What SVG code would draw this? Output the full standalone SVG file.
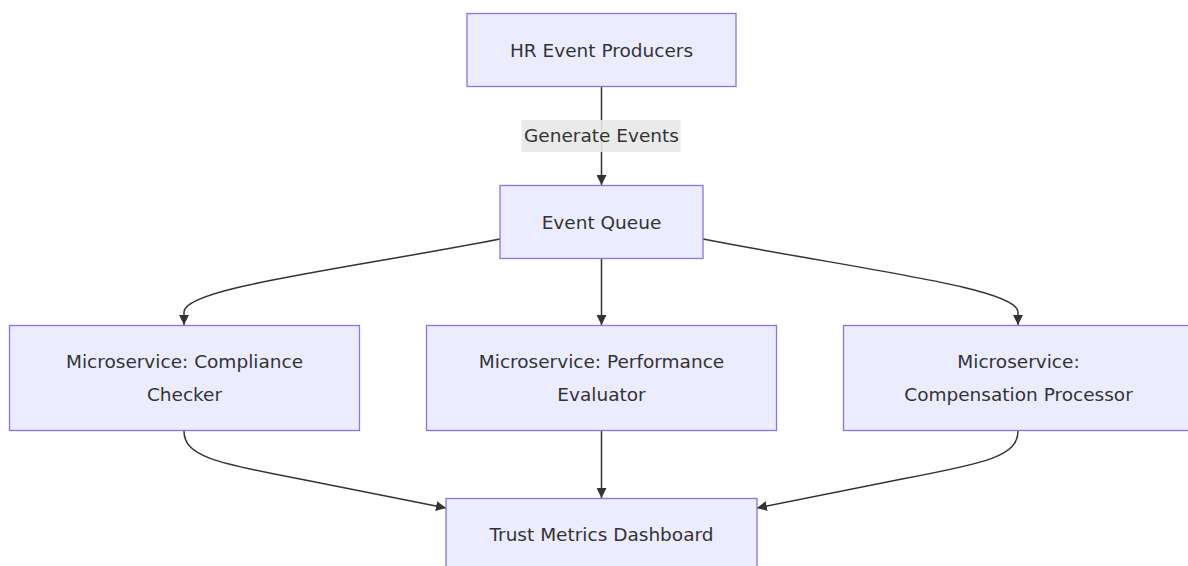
<svg xmlns="http://www.w3.org/2000/svg" width="1188" height="566" viewBox="0 0 1188 566">
  <style>
    .node rect { fill: #ECECFF; stroke: #9370DB; stroke-width: 1.3; }
    .node text, .edge-label text { font-family: "DejaVu Sans", "Liberation Sans", sans-serif; font-size: 18.5px; fill: #333; text-anchor: middle; dominant-baseline: central; }
    .edges path { fill: none; stroke: #333; stroke-width: 1.5; }
    .edge-label rect { fill: #e8e8e8; opacity: 0.9; }
  </style>
  <defs>
    <marker id="arrow" viewBox="0 0 10 10" refX="10" refY="5" markerWidth="10" markerHeight="10" markerUnits="userSpaceOnUse" orient="auto">
      <path d="M0,0 L10,5 L0,10 z" fill="#333"/>
    </marker>
  </defs>
  <rect width="1188" height="566" fill="#ffffff"/>

  <g class="edges">
    <path d="M601.5,87 L601.5,185" marker-end="url(#arrow)"/>
    <path d="M500,239 C340,270 184,288 184,312 L184,325" marker-end="url(#arrow)"/>
    <path d="M601.5,259 L601.5,325" marker-end="url(#arrow)"/>
    <path d="M703,239 C863,270 1018,288 1018,312 L1018,325" marker-end="url(#arrow)"/>
    <path d="M184,431 C184,456 215,463 300,479 L446,508" marker-end="url(#arrow)"/>
    <path d="M601.5,431 L601.5,498" marker-end="url(#arrow)"/>
    <path d="M1018,431 C1018,456 987,463 902,479 L757,508" marker-end="url(#arrow)"/>
  </g>

  <g class="edge-label" id="label-generate">
    <rect x="521.5" y="120" width="159" height="32"/>
    <text x="601.5" y="135">Generate Events</text>
  </g>

  <g class="node" id="hr-producers">
    <rect x="467" y="13.5" width="269" height="73"/>
    <text x="601.5" y="50">HR Event Producers</text>
  </g>

  <g class="node" id="event-queue">
    <rect x="500" y="185.5" width="203" height="73"/>
    <text x="601.5" y="222">Event Queue</text>
  </g>

  <g class="node" id="compliance">
    <rect x="9.5" y="325.5" width="350" height="105"/>
    <text x="184.5" y="361">Microservice: Compliance</text>
    <text x="184.5" y="394">Checker</text>
  </g>

  <g class="node" id="performance">
    <rect x="426.5" y="325.5" width="350" height="105"/>
    <text x="601.5" y="361">Microservice: Performance</text>
    <text x="601.5" y="394">Evaluator</text>
  </g>

  <g class="node" id="compensation">
    <rect x="843.5" y="325.5" width="350" height="105"/>
    <text x="1018.5" y="361">Microservice:</text>
    <text x="1018.5" y="394">Compensation Processor</text>
  </g>

  <g class="node" id="dashboard">
    <rect x="446" y="498.5" width="311" height="73"/>
    <text x="601.5" y="534">Trust Metrics Dashboard</text>
  </g>
</svg>
